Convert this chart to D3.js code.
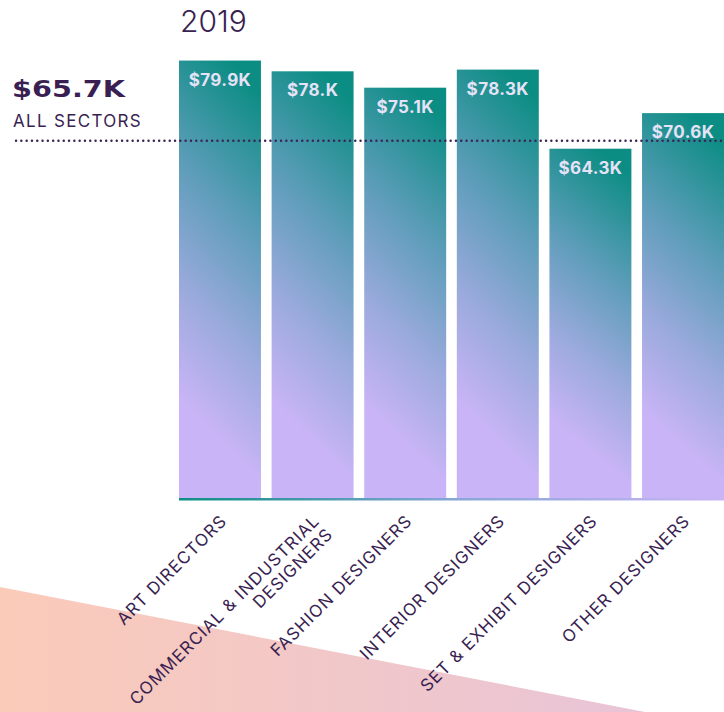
<!DOCTYPE html>
<html>
<head>
<meta charset="utf-8">
<script src="https://cdn.jsdelivr.net/npm/d3@7"></script>
<style>
  body { margin: 0; background: #fff; font-family: Inter, "Open Sans", sans-serif; }
  svg { display: block; }
  .xlab { font-size: 17px; fill: #3a1f52; letter-spacing: 1px; }
  .val { font-size: 17px; font-weight: 700; fill: #e6e2f8; letter-spacing: 0.4px; }
</style>
</head>
<body>
<svg id="chart" width="724" height="712"></svg>
<script>
// data
var year = "2019";
var categories = [
  ["ART DIRECTORS"],
  ["COMMERCIAL & INDUSTRIAL", "DESIGNERS"],
  ["FASHION DESIGNERS"],
  ["INTERIOR DESIGNERS"],
  ["SET & EXHIBIT DESIGNERS"],
  ["OTHER DESIGNERS"]
];
var values = [79.9, 78.0, 75.1, 78.3, 64.3, 70.6];
var valueLabels = ["$79.9K", "$78.K", "$75.1K", "$78.3K", "$64.3K", "$70.6K"];
var allSectors = 65.7;
var allSectorsLabel = "$65.7K";

var svg = d3.select("#chart");
var base = 498;

var x = d3.scaleBand()
    .domain(d3.range(values.length))
    .range([179, 724])
    .paddingInner(0.115);
var y = d3.scaleLinear().domain([0, 80]).range([512, 60]);

var defs = svg.append("defs");
var pink = defs.append("linearGradient").attr("id", "pink");
pink.append("stop").attr("offset", 0).attr("stop-color", "#fbcbb9");
pink.append("stop").attr("offset", 1).attr("stop-color", "#e8c4d7");

// diagonal gradient per bar: teal top right -> lavender bottom left
var barg = defs.append("linearGradient").attr("id", "barg")
    .attr("x1", 0.6).attr("y1", 0).attr("x2", 0.41).attr("y2", 1);
[[0, "#0b8d83"], [0.33, "#5e9dba"], [0.6, "#9aaadc"], [0.85, "#c8b4f6"], [1, "#c8b4f6"]]
  .forEach(function(s) {
    barg.append("stop").attr("offset", s[0]).attr("stop-color", s[1]);
  });

var lineg = defs.append("linearGradient").attr("id", "lineg");
lineg.append("stop").attr("offset", 0).attr("stop-color", "#0c8e84");
lineg.append("stop").attr("offset", 0.5).attr("stop-color", "#86a6d6");
lineg.append("stop").attr("offset", 1).attr("stop-color", "#c9b5f7");

// background wedge bottom left
svg.append("path")
    .attr("d", "M0,587 L645,712 L0,712 Z")
    .attr("fill", "url(#pink)");

// bars
svg.selectAll("rect.bar")
  .data(values)
  .enter().append("rect")
    .attr("class", "bar")
    .attr("x", function(d, i) { return x(i); })
    .attr("y", function(d) { return y(d); })
    .attr("width", x.bandwidth())
    .attr("height", function(d) { return base - y(d); })
    .attr("fill", "url(#barg)");

// baseline
svg.append("rect")
    .attr("x", x.range()[0]).attr("y", base)
    .attr("width", x.range()[1] - x.range()[0]).attr("height", 2.5)
    .attr("fill", "url(#lineg)");

// value labels
svg.selectAll("text.val")
  .data(values)
  .enter().append("text")
    .attr("class", "val")
    .attr("text-anchor", "middle")
    .attr("x", function(d, i) { return x(i) + x.bandwidth() / 2; })
    .attr("y", function(d) { return y(d) + 25; })
    .text(function(d, i) { return valueLabels[i]; });

// all sectors reference line
svg.append("line")
    .attr("x1", 16).attr("x2", 724)
    .attr("y1", y(allSectors)).attr("y2", y(allSectors))
    .attr("stroke", "#3d2458")
    .attr("stroke-width", 2.4)
    .attr("stroke-linecap", "round")
    .attr("stroke-dasharray", "0.1 5.2");

svg.append("text")
    .attr("x", 12).attr("y", 97)
    .attr("textLength", 113).attr("lengthAdjust", "spacingAndGlyphs")
    .style("font-family", "'DejaVu Sans', sans-serif")
    .style("font-weight", 700)
    .style("font-size", "23px")
    .attr("fill", "#3a1f52")
    .text(allSectorsLabel);

svg.append("text")
    .attr("x", 13).attr("y", 127)
    .style("font-size", "17px")
    .style("letter-spacing", "1.3px")
    .attr("fill", "#3a1f52")
    .text("ALL SECTORS");

// title
svg.append("text")
    .attr("x", 180).attr("y", 32)
    .style("font-size", "30px")
    .style("font-weight", 300)
    .attr("fill", "#3a1f52")
    .text(year);

// category labels, rotated; extra lines go below the first
var lab = svg.selectAll("g.xlab")
  .data(categories)
  .enter().append("g")
    .attr("transform", function(d, i) {
        return "translate(" + (x(i) + x.bandwidth() / 2 + 8) + ",522) rotate(-45)";
    });
lab.each(function(lines) {
    var g = d3.select(this);
    lines.forEach(function(t, k) {
        g.append("text")
            .attr("class", "xlab")
            .attr("text-anchor", "end")
            .attr("x", 0)
            .attr("y", k * 19)
            .text(t);
    });
});
</script>
</body>
</html>
